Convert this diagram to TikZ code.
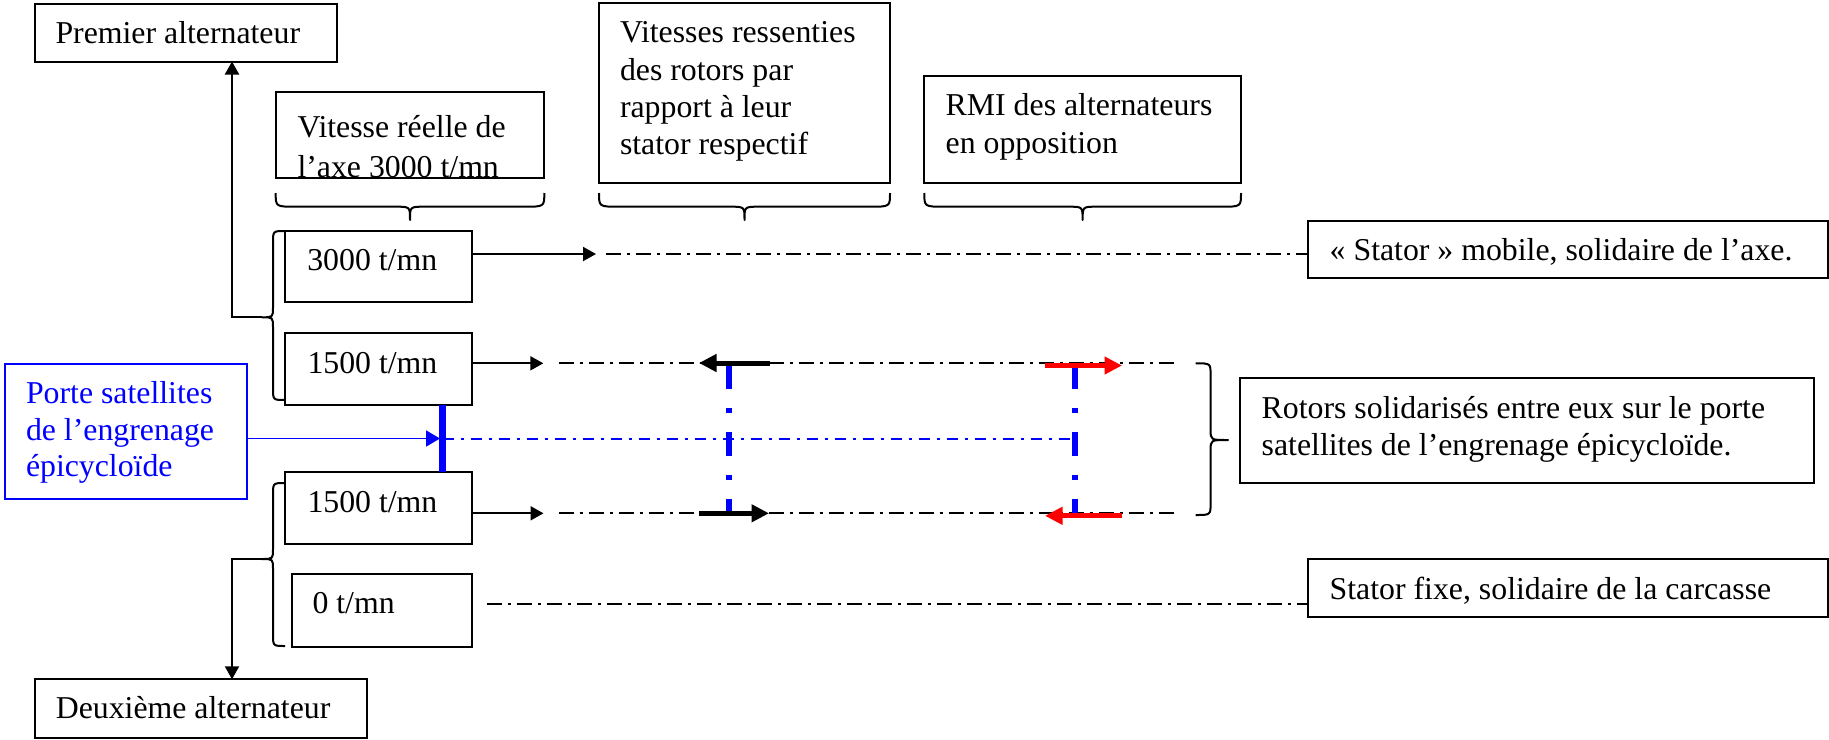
\documentclass[tikz,border=0pt]{standalone}
\usepackage{fontspec}
\setmainfont{Liberation Serif}
\usetikzlibrary{arrows.meta}

% horizontal curly brace under a box: left x, right x, tip x
\newcommand\hbrace[3]{%
  \draw[brace] (#1,193) .. controls (#1,206.7) .. (#1+20,206.7) -- (#3-14,206.7)
    .. controls (#3,206.7) .. (#3,220) .. controls (#3,206.7) .. (#3+14,206.7)
    -- (#2-20,206.7) .. controls (#2,206.7) .. (#2,193);}
% vertical curly brace: end x, body x, tip x, top y, tip y, bottom y
\newcommand\vbrace[6]{%
  \draw[brace] (#1,#4) .. controls (#2,#4) .. (#2,#4+12) -- (#2,#5-10)
    .. controls (#2,#5) .. (#3,#5) .. controls (#2,#5) .. (#2,#5+10)
    -- (#2,#6-12) .. controls (#2,#6) .. (#1,#6);}

\begin{document}
\begin{tikzpicture}[x=0.5pt,y=-0.5pt,
  box/.style={draw,line width=1pt,anchor=north west,inner sep=0pt,outer sep=0pt},
  bluebox/.style={box,draw=blue,line width=0.9pt},
  txt/.style={anchor=base west,inner sep=0pt,outer sep=0pt,font=\fontsize{15.9pt}{18.7pt}\selectfont},
  bluetxt/.style={txt,text=blue,font=\fontsize{15.9pt}{18.35pt}\selectfont},
  link/.style={line width=1pt},
  tipped/.style={link,-{Triangle[length=6.5pt,width=7pt]}},
  axisline/.style={line width=1pt,dash pattern=on 7.5pt off 3pt on 1.5pt off 3pt},
  bluethin/.style={blue,line width=1pt,dash pattern=on 5.5pt off 3.5pt on 1.5pt off 3.5pt},
  bluethick/.style={blue,line width=2.6pt,dash pattern=on 12pt off 9.5pt on 2.4pt off 9.5pt},
  bar/.style={blue,line width=3.4pt},
  speed/.style={line width=2.5pt,-{Triangle[length=8.75pt,width=8.5pt]}},
  brace/.style={line width=1pt,line join=round}]

\useasboundingbox (0,0) rectangle (1829,739);
\fill[white] (0,0) rectangle (1829,739);

% ---------- boxes ----------
\node[box,minimum width=151pt,minimum height=29pt] (premier) at (35,3.5) {};
\node[box,minimum width=134.3pt,minimum height=42.6pt] (vreelle) at (275.7,92.3) {};
\node[box,minimum width=145.5pt,minimum height=89.7pt] (vress) at (599,3.3) {};
\node[box,minimum width=158.35pt,minimum height=53.65pt] (rmi) at (924.3,76) {};
\node[box,minimum width=93.65pt,minimum height=35.8pt] (b3000) at (285,230.7) {};
\node[box,minimum width=93.7pt,minimum height=36.15pt] (b1500a) at (285,332.7) {};
\node[box,minimum width=93.6pt,minimum height=36.15pt] (b1500b) at (285,471.7) {};
\node[box,minimum width=90.35pt,minimum height=36.35pt] (b0) at (291.5,574) {};
\node[box,minimum width=166.1pt,minimum height=29.5pt] (deux) at (34.8,679.3) {};
\node[bluebox,minimum width=120.85pt,minimum height=67.5pt] (porte) at (5,364) {};
\node[box,minimum width=260pt,minimum height=28.5pt] (smob) at (1308,220.7) {};
\node[box,minimum width=286.75pt,minimum height=52.5pt] (rotors) at (1240,378.3) {};
\node[box,minimum width=260pt,minimum height=29.15pt] (sfixe) at (1308,559) {};

% ---------- texts ----------
\node[txt] (premier-t) at (55.5,43.3) {Premier alternateur};
\begin{scope}
  \clip (vreelle.north west) rectangle (vreelle.south east);
  \node[txt,font=\fontsize{15.9pt}{20pt}\selectfont] (vreelle-t) at (297.5,137.3)
    {\vtop{\hbox{Vitesse réelle de}\hbox{l’axe 3000 t/mn}}};
\end{scope}
\draw[line width=1pt] (vreelle.south west) -- (vreelle.south east);
\node[txt] (vress-t) at (620,42.7)
  {\vtop{\hbox{Vitesses ressenties}\hbox{des rotors par}\hbox{rapport à leur}\hbox{stator respectif}}};
\node[txt,font=\fontsize{15.9pt}{19.15pt}\selectfont] (rmi-t) at (945.7,115)
  {\vtop{\hbox{RMI des alternateurs}\hbox{en opposition}}};
\node[txt] (b3000-t) at (307.3,270) {3000 t/mn};
\node[txt] (b1500a-t) at (307.5,373.3) {1500 t/mn};
\node[txt] (b1500b-t) at (307.5,512) {1500 t/mn};
\node[txt] (b0-t) at (312.5,613.3) {0 t/mn};
\node[txt] (deux-t) at (55.8,718.3) {Deuxième alternateur};
\node[bluetxt] (porte-t) at (26,403.3)
  {\vtop{\hbox{Porte satellites}\hbox{de l’engrenage}\hbox{épicycloïde}}};
\node[txt] (smob-t) at (1329.7,260) {« Stator » mobile, solidaire de l’axe.};
\node[txt,font=\fontsize{15.9pt}{18.35pt}\selectfont] (rotors-t) at (1261.7,418.3)
  {\vtop{\hbox{Rotors solidarisés entre eux sur le porte}\hbox{satellites de l’engrenage épicycloïde.}}};
\node[txt] (sfixe-t) at (1329.7,599.3) {Stator fixe, solidaire de la carcasse};

% ---------- braces ----------
\hbrace{275.7}{544.3}{410}
\hbrace{599}{890}{744.5}
\hbrace{924.3}{1241}{1082.6}
\vbrace{285}{273}{262}{231}{317.3}{400}
\vbrace{285}{273}{261.5}{483}{559}{646}
\vbrace{1195.5}{1210.6}{1228}{363.3}{440}{515}

% ---------- links to the two alternators ----------
\coordinate (b1tip) at (262,317.3);
\coordinate (v1) at (232,317.3);
\draw[tipped] (b1tip) -- (v1) -- (v1 |- premier.south);
\coordinate (b2tip) at (261.5,559);
\coordinate (v2) at (232,559);
\draw[tipped] (b2tip) -- (v2) -- (v2 |- deux.north);

% ---------- speed lines ----------
\coordinate (a3000) at (596,254);
\coordinate (d3000) at (606,254);
\draw[tipped] (b3000.east |- a3000) -- (a3000);
\draw[axisline] (d3000) -- (d3000 -| smob.west);

\coordinate (a1500a) at (543.3,363.3);
\coordinate (d1500a) at (558.5,363.3);
\coordinate (e1500a) at (1174.4,363.3);
\draw[tipped] (b1500a.east |- a1500a) -- (a1500a);
\draw[axisline] (d1500a) -- (e1500a);

\coordinate (a1500b) at (543.5,513.3);
\coordinate (d1500b) at (558.5,513.3);
\coordinate (e1500b) at (1174.4,513.3);
\draw[tipped] (b1500b.east |- a1500b) -- (a1500b);
\draw[axisline] (d1500b) -- (e1500b);

\coordinate (d0) at (486.6,603.5);
\draw[axisline] (d0) -- (d0 -| sfixe.west);

% ---------- planet carrier ----------
\coordinate (barx) at (442.6,438.5);
\coordinate (bartip) at (440,438.5);
\coordinate (rightv) at (1075,438.5);
\draw[bluethin] (barx) -- (rightv);
\draw[bar] (b1500a.south -| barx) -- (b1500b.north -| barx);
\draw[blue,line width=0.9pt,-{Triangle[length=7pt,width=8pt]}] (porte.east |- bartip) -- (bartip);

\coordinate (r1top) at (729,365);
\coordinate (r1bot) at (729,513);
\coordinate (r2top) at (1075,365);
\coordinate (r2bot) at (1075,513);
\draw[bluethick] (r1top) -- (r1bot);
\draw[bluethick] (r2top) -- (r2bot);

% ---------- rotor speeds and opposing torques ----------
\coordinate (k1s) at (770,363);   \coordinate (k1e) at (699,363);
\coordinate (k2s) at (699,513.3); \coordinate (k2e) at (769,513.3);
\coordinate (r1s) at (1045,365.5); \coordinate (r1e) at (1122,365.5);
\coordinate (r2s) at (1122,515.8); \coordinate (r2e) at (1045,515.8);
\draw[speed] (k1s) -- (k1e);
\draw[speed] (k2s) -- (k2e);
\draw[speed,red] (r1s) -- (r1e);
\draw[speed,red] (r2s) -- (r2e);

\end{tikzpicture}
\end{document}
